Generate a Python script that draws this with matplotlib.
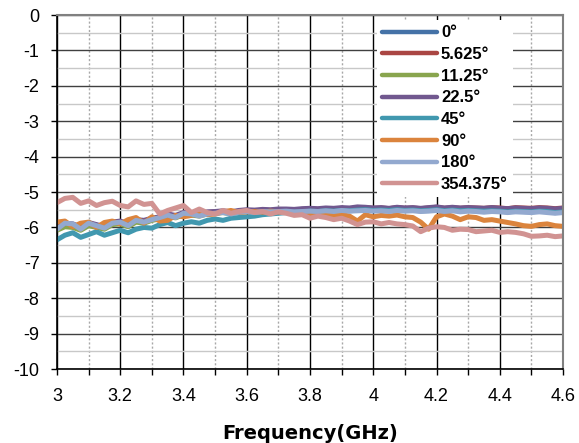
import numpy as np
import matplotlib
matplotlib.use("Agg")
import matplotlib.pyplot as plt
from matplotlib.ticker import MultipleLocator

plt.rcParams["font.family"] = ["Liberation Sans", "DejaVu Sans"]
plt.rcParams["axes.unicode_minus"] = False

# frecuencia en GHz, paso 0.025
freq = np.linspace(3.0, 4.6, 65)

labels = ["0°", "5.625°", "11.25°", "22.5°", "45°", "90°", "180°", "354.375°"]
colors = ["#4572A7", "#AA4643", "#89A54E", "#71588F",
          "#4198AF", "#DB843D", "#93A9CF", "#D19392"]

s_0 = [-6.00, -5.92, -5.95, -6.02, -5.90, -5.96, -6.00, -5.88, -5.86, -5.94, -5.82, -5.84, -5.78,
       -5.74, -5.66, -5.70, -5.62, -5.62, -5.66, -5.60, -5.58, -5.57, -5.60, -5.56, -5.54, -5.56,
       -5.53, -5.54, -5.52, -5.52, -5.54, -5.52, -5.51, -5.52, -5.50, -5.52, -5.50, -5.51, -5.50,
       -5.49, -5.51, -5.50, -5.52, -5.50, -5.51, -5.50, -5.52, -5.51, -5.49, -5.52, -5.50, -5.52,
       -5.51, -5.52, -5.53, -5.52, -5.53, -5.54, -5.52, -5.53, -5.54, -5.53, -5.54, -5.56, -5.55]
s_5625 = [-5.98, -5.90, -5.92, -6.00, -5.88, -5.94, -5.98, -5.86, -5.84, -5.92, -5.80, -5.82, -5.76,
          -5.72, -5.64, -5.68, -5.60, -5.60, -5.64, -5.58, -5.56, -5.55, -5.57, -5.54, -5.52, -5.53,
          -5.51, -5.52, -5.50, -5.50, -5.51, -5.49, -5.48, -5.49, -5.47, -5.48, -5.46, -5.47, -5.45,
          -5.44, -5.46, -5.45, -5.47, -5.44, -5.46, -5.45, -5.47, -5.45, -5.43, -5.46, -5.44, -5.46,
          -5.44, -5.45, -5.46, -5.44, -5.45, -5.47, -5.44, -5.45, -5.46, -5.44, -5.45, -5.47, -5.45]
s_1125 = [-6.08, -5.98, -6.00, -6.08, -5.95, -6.00, -6.05, -5.92, -5.90, -5.98, -5.85, -5.88, -5.80,
          -5.76, -5.68, -5.73, -5.64, -5.65, -5.68, -5.62, -5.60, -5.58, -5.61, -5.57, -5.55, -5.57,
          -5.54, -5.55, -5.53, -5.53, -5.54, -5.52, -5.51, -5.52, -5.50, -5.51, -5.49, -5.50, -5.49,
          -5.48, -5.50, -5.49, -5.51, -5.48, -5.50, -5.49, -5.51, -5.50, -5.48, -5.51, -5.49, -5.51,
          -5.50, -5.50, -5.52, -5.50, -5.51, -5.53, -5.51, -5.52, -5.53, -5.51, -5.52, -5.54, -5.53]
s_225 = [-6.02, -5.88, -5.90, -6.00, -5.86, -5.92, -5.98, -5.85, -5.82, -5.90, -5.78, -5.80, -5.74,
         -5.70, -5.62, -5.66, -5.58, -5.59, -5.62, -5.56, -5.55, -5.53, -5.56, -5.52, -5.50, -5.51,
         -5.49, -5.50, -5.48, -5.48, -5.49, -5.47, -5.46, -5.47, -5.45, -5.46, -5.44, -5.45, -5.42,
         -5.43, -5.45, -5.44, -5.46, -5.43, -5.45, -5.44, -5.46, -5.44, -5.42, -5.45, -5.43, -5.45,
         -5.44, -5.45, -5.46, -5.44, -5.46, -5.47, -5.45, -5.46, -5.47, -5.45, -5.46, -5.48, -5.46]
s_45 = [-6.35, -6.22, -6.15, -6.28, -6.20, -6.12, -6.22, -6.15, -6.08, -6.15, -6.05, -6.00, -6.02,
        -5.92, -5.86, -5.95, -5.88, -5.84, -5.88, -5.80, -5.76, -5.80, -5.74, -5.72, -5.70, -5.68,
        -5.64, -5.62, -5.60, -5.58, -5.57, -5.56, -5.54, -5.55, -5.53, -5.54, -5.52, -5.53, -5.51,
        -5.50, -5.52, -5.51, -5.52, -5.50, -5.52, -5.51, -5.53, -5.52, -5.50, -5.53, -5.51, -5.53,
        -5.52, -5.53, -5.54, -5.53, -5.54, -5.56, -5.54, -5.55, -5.56, -5.54, -5.55, -5.58, -5.56]
s_90 = [-5.85, -5.82, -5.98, -5.88, -5.85, -6.00, -5.86, -5.82, -5.90, -5.78, -5.72, -5.88, -5.70,
        -5.82, -5.80, -5.66, -5.70, -5.66, -5.58, -5.64, -5.62, -5.56, -5.52, -5.58, -5.56, -5.55,
        -5.57, -5.54, -5.56, -5.58, -5.60, -5.62, -5.64, -5.60, -5.62, -5.66, -5.64, -5.68, -5.82,
        -5.64, -5.70, -5.66, -5.68, -5.65, -5.70, -5.72, -5.85, -6.05, -5.70, -5.62, -5.68, -5.78,
        -5.70, -5.72, -5.80, -5.78, -5.82, -5.86, -5.90, -5.95, -5.97, -5.92, -5.90, -5.95, -5.97]
s_180 = [-6.05, -5.88, -5.90, -6.05, -5.88, -5.95, -6.02, -5.88, -5.85, -5.95, -5.80, -5.85, -5.78,
         -5.72, -5.65, -5.72, -5.60, -5.62, -5.68, -5.62, -5.60, -5.58, -5.62, -5.57, -5.55, -5.58,
         -5.55, -5.56, -5.55, -5.54, -5.56, -5.55, -5.54, -5.55, -5.53, -5.55, -5.52, -5.54, -5.53,
         -5.52, -5.54, -5.53, -5.55, -5.52, -5.54, -5.53, -5.55, -5.54, -5.52, -5.55, -5.53, -5.56,
         -5.54, -5.55, -5.57, -5.55, -5.56, -5.58, -5.56, -5.57, -5.58, -5.56, -5.58, -5.60, -5.58]
s_354 = [-5.30, -5.18, -5.15, -5.32, -5.25, -5.38, -5.30, -5.26, -5.38, -5.42, -5.25, -5.35, -5.32,
         -5.62, -5.52, -5.45, -5.38, -5.58, -5.48, -5.58, -5.62, -5.52, -5.60, -5.55, -5.52, -5.58,
         -5.55, -5.62, -5.56, -5.60, -5.66, -5.64, -5.74, -5.68, -5.72, -5.78, -5.74, -5.82, -5.92,
         -5.85, -5.84, -5.90, -5.86, -5.90, -5.92, -5.96, -6.12, -6.02, -5.98, -6.00, -6.08, -6.05,
         -6.06, -6.12, -6.10, -6.08, -6.14, -6.12, -6.14, -6.18, -6.25, -6.24, -6.22, -6.26, -6.24]

series = [s_0, s_5625, s_1125, s_225, s_45, s_90, s_180, s_354]

fig = plt.figure(figsize=(5.79, 4.43), dpi=100)
ax = fig.add_axes([0.0984, 0.167, 0.874, 0.799])

for lab, col, vals in zip(labels, colors, series):
    ax.plot(freq, vals, color=col, lw=3.6, label=lab, solid_capstyle="round",
            solid_joinstyle="round")

ax.set_xlim(3.0, 4.6)
ax.set_ylim(-10, 0)
ax.xaxis.set_major_locator(MultipleLocator(0.2))
ax.xaxis.set_minor_locator(MultipleLocator(0.1))
ax.yaxis.set_major_locator(MultipleLocator(1))
ax.yaxis.set_minor_locator(MultipleLocator(0.5))
ax.set_xticklabels([f"{v:g}" for v in ax.get_xticks()])

ax.grid(which="major", axis="x", color="black", lw=1.0)
ax.grid(which="minor", axis="x", color="#a8a8a8", lw=1.0, ls=(0, (1.5, 1.5)))
ax.grid(which="major", axis="y", color="#404040", lw=1.0)
ax.grid(which="minor", axis="y", color="#c8c8c8", lw=1.0)
ax.set_axisbelow(True)

ax.tick_params(which="both", direction="out", length=4.5, width=1, labelsize=13,
               color="black")
ax.tick_params(axis="y", which="minor", length=0)
ax.tick_params(axis="x", pad=9)
ax.tick_params(axis="y", pad=8)
for s in ["top", "right"]:
    ax.spines[s].set_color("#808080")
    ax.spines[s].set_linewidth(1.5)
for s in ["left", "bottom"]:
    ax.spines[s].set_color("black")
    ax.spines[s].set_linewidth(1.2)

ax.set_xlabel("Frequency(GHz)", fontsize=14, fontweight="bold",
              family="DejaVu Sans", labelpad=14)

leg = ax.legend(loc="upper left", bbox_to_anchor=(0.632, 0.985), frameon=True,
                fancybox=False, edgecolor="none", facecolor="white", framealpha=1,
                borderaxespad=0, prop={"size": 12, "weight": "bold"},
                handlelength=3.3, handletextpad=0.25, labelspacing=0.4,
                borderpad=0.3)
for h in leg.get_lines():
    h.set_linewidth(3.2)

fig.savefig("out.png", dpi=100)
